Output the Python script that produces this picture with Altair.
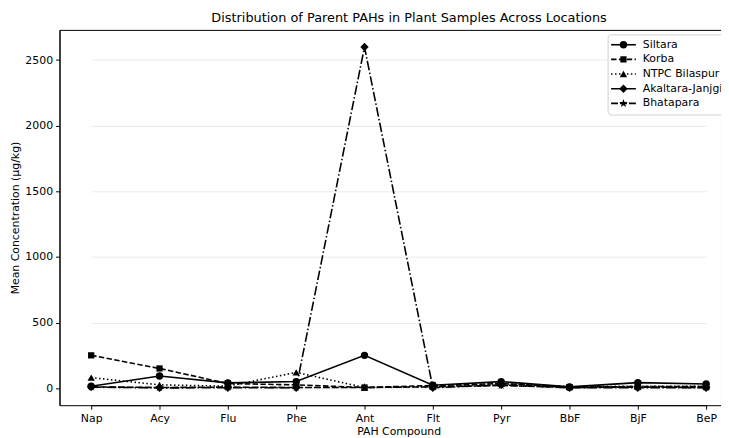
import math
import altair as alt
import pandas as pd

title_text = "Distribution of Parent PAHs in Plant Samples Across Locations"
categories = ["Nap", "Acy", "Flu", "Phe", "Ant", "Flt", "Pyr", "BbF", "BjF", "BeP"]
series_names = ["Siltara", "Korba", "NTPC Bilaspur", "Akaltara-Janjgir", "Bhatapara"]
siltara = [15, 92, 40, 50, 250, 22, 50, 10, 42, 32]
korba = [250, 150, 35, 25, 5, 20, 35, 8, 12, 12]
ntpc = [80, 25, 15, 120, 5, 12, 35, 10, 15, 15]
akaltara = [8, 2, 3, 3, 2600, 3, 25, 3, 3, 3]
bhatapara = [10, 5, 8, 5, 5, 10, 20, 5, 8, 5]
y_ticks = [0, 500, 1000, 1500, 2000, 2500]

values = [siltara, korba, ntpc, akaltara, bhatapara]
rows = []
for name, vals in zip(series_names, values):
    for c, v in zip(categories, vals):
        rows.append({"compound": c, "location": name, "value": v})
df = pd.DataFrame(rows)

# five-pointed star as a custom symbol path (Vega has no built-in star)
star_path = "M" + "L".join(
    f"{(1.0 if k % 2 == 0 else 0.4) * math.sin(math.pi * k / 5):.3f},"
    f"{-(1.0 if k % 2 == 0 else 0.4) * math.cos(math.pi * k / 5):.3f}"
    for k in range(10)) + "Z"

dashes = [None, [5.5, 2.4], [1.5, 2.5], [9.6, 2.4, 1.5, 2.4], [7, 2]]
shapes = ["circle", "square", "triangle-up", "diamond", star_path]
sizes = [56, 40, 56, 72, 80]

x_enc = alt.X("compound:N", sort=categories, title="PAH Compound",
              scale=alt.Scale(domain=categories, range=[32, 653], padding=0),
              axis=alt.Axis(labelAngle=0, gridColor="#d4d4d4", tickSize=4, titlePadding=3))
y_enc = alt.Y("value:Q", title="Mean Concentration (µg/kg)",
              scale=alt.Scale(domain=[-130, 2730], nice=False, zero=False),
              axis=alt.Axis(values=y_ticks, format="d", gridColor="#ebebeb", tickSize=4,
                            titlePadding=4))

base = alt.Chart(df)

layers = []
for name, dash, shp, sz in zip(series_names, dashes, shapes, sizes):
    sub = base.transform_filter(alt.datum.location == name)
    if dash is None:
        lm = sub.mark_line(color="black", strokeWidth=1.6)
    else:
        lm = sub.mark_line(color="black", strokeWidth=1.6, strokeDash=dash)
    layers.append(lm.encode(x=x_enc, y=y_enc))
    layers.append(sub.mark_point(filled=True, color="black", opacity=1, shape=shp, size=sz)
                  .encode(x=x_enc, y=y_enc))

# legend (drawn from the series lists)
leg_df = pd.DataFrame({"name": series_names})
layers.append(
    alt.Chart(leg_df.head(1)).mark_rect(fill="white", stroke="#cccccc", strokeWidth=1,
                                        cornerRadius=3, opacity=0.9)
    .encode(x=alt.value(554), x2=alt.value(690), y=alt.value(5), y2=alt.value(86))
)
for i, (name, dash, shp, sz) in enumerate(zip(series_names, dashes, shapes, sizes)):
    row = alt.Chart(pd.DataFrame({"name": [name]}))
    yy = 15 + 14.8 * i
    if dash is None:
        rm = row.mark_rule(color="black", strokeWidth=1.6)
    else:
        rm = row.mark_rule(color="black", strokeWidth=1.6, strokeDash=dash)
    layers.append(rm.encode(x=alt.value(557), x2=alt.value(582), y=alt.value(yy)))
    layers.append(row.mark_point(filled=True, color="black", opacity=1, shape=shp, size=sz)
                  .encode(x=alt.value(569.5), y=alt.value(yy)))
    layers.append(row.mark_text(font="DejaVu Sans", fontSize=11, color="#000",
                                align="left", baseline="middle")
                  .encode(text="name:N", x=alt.value(589), y=alt.value(yy)))

chart = alt.layer(*layers).properties(
    width=668, height=379,
    title=alt.TitleParams(title_text, anchor="middle", dx=19, offset=5,
                          font="DejaVu Sans", fontSize=13, fontWeight="normal", color="#000"),
    autosize=alt.AutoSizeParams(type="none"),
    padding={"left": 52, "top": 20, "right": 0, "bottom": 30},
).configure_view(stroke="#000", strokeWidth=1).configure_axis(
    domainColor="#000", tickColor="#000", labelColor="#000", labelFontSize=11,
    titleFontSize=11, titleFontWeight="normal", titleColor="#000",
    labelFont="DejaVu Sans", titleFont="DejaVu Sans", labelPadding=3
)

chart.save("out.html", embed_options={"renderer": "svg", "actions": False})
